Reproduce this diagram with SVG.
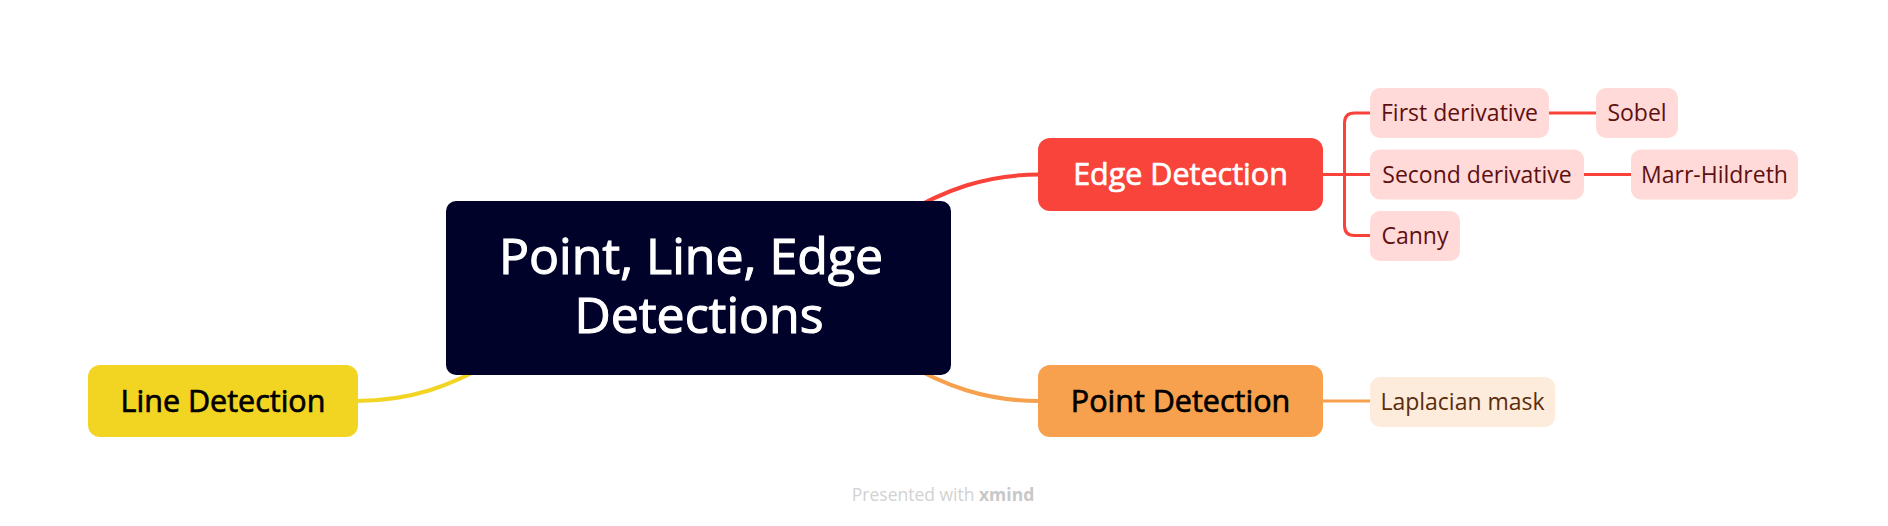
<svg xmlns="http://www.w3.org/2000/svg" width="1888" height="526" viewBox="0 0 1888 526">
<style>
  text { font-family: "Open Sans", "Liberation Sans", sans-serif; }
  .central { fill: #000229; }
  .ctext { fill: #ffffff; stroke: #ffffff; stroke-width: 1.1px; font-size: 50px; text-anchor: middle; }
  .main { font-size: 30.5px; stroke-width: 0.7px; text-anchor: middle; }
  .sub { font-size: 23px; text-anchor: middle; }
  .redsub rect { fill: #FFDAD8; }
  .redsub text { fill: #5E1010; }
  .orgsub rect { fill: #FDEBDC; }
  .orgsub text { fill: #5A2D0C; }
  .conn { fill: none; stroke-linecap: round; }
  .red { stroke: #F9423A; }
  .org { stroke: #F7A04D; }
  .yel { stroke: #F2D423; }
  .wm { font-size: 17.5px; fill: #D2D2D2; text-anchor: middle; }
</style>
<rect width="1888" height="526" fill="#ffffff"/>
<g id="connectors">
  <path class="conn red" stroke-width="4" d="M900 216 C945 190 985 174.5 1040 174.5"/>
  <path class="conn org" stroke-width="4" d="M900 360 C945 386 985 401 1040 401"/>
  <path class="conn yel" stroke-width="4" d="M496 360 C451 386 411 401 356 401"/>
  <path class="conn red" stroke-width="3" d="M1323 174.5 H1344.5 M1372 113 H1354.5 Q1344.5 113 1344.5 123 V225.5 Q1344.5 235.5 1354.5 235.5 H1372 M1344.5 174.5 H1372"/>
  <path class="conn red" stroke-width="3" d="M1549 113 H1596 M1584 174.5 H1631"/>
  <path class="conn org" stroke-width="3" d="M1323 401 H1370"/>
</g>
<g id="central">
  <rect class="central" x="446" y="201" width="505" height="174" rx="10"/>
  <text class="ctext"><tspan x="691" y="274">Point, Line, Edge</tspan><tspan x="699" y="333">Detections</tspan></text>
</g>
<g id="edge-detection">
  <rect x="1038" y="138" width="285" height="73" rx="12" fill="#F9443B"/>
  <text class="main" x="1180.5" y="185" fill="#ffffff" stroke="#ffffff">Edge Detection</text>
</g>
<g id="point-detection">
  <rect x="1038" y="365" width="285" height="72" rx="12" fill="#F7A04D"/>
  <text class="main" x="1180.5" y="412" fill="#000000" stroke="#000000">Point Detection</text>
</g>
<g id="line-detection">
  <rect x="88" y="365" width="270" height="72" rx="12" fill="#F2D423"/>
  <text class="main" x="223" y="412" fill="#000000" stroke="#000000">Line Detection</text>
</g>
<g id="first-derivative" class="redsub">
  <rect x="1370" y="88" width="179" height="50" rx="10"/>
  <text class="sub" x="1459.5" y="121">First derivative</text>
</g>
<g id="sobel" class="redsub">
  <rect x="1596" y="88" width="82" height="50" rx="10"/>
  <text class="sub" x="1637" y="121">Sobel</text>
</g>
<g id="second-derivative" class="redsub">
  <rect x="1370" y="149.5" width="214" height="50" rx="10"/>
  <text class="sub" x="1477" y="182.5">Second derivative</text>
</g>
<g id="marr-hildreth" class="redsub">
  <rect x="1631" y="149.5" width="167" height="50" rx="10"/>
  <text class="sub" x="1714.5" y="182.5">Marr-Hildreth</text>
</g>
<g id="canny" class="redsub">
  <rect x="1370" y="211" width="90" height="50" rx="10"/>
  <text class="sub" x="1415" y="244">Canny</text>
</g>
<g id="laplacian-mask" class="orgsub">
  <rect x="1370" y="377" width="185" height="50" rx="10"/>
  <text class="sub" x="1462.5" y="410">Laplacian mask</text>
</g>
<text class="wm" x="943" y="501">Presented with <tspan font-weight="700" fill="#C8C8C8">xmind</tspan></text>
</svg>
